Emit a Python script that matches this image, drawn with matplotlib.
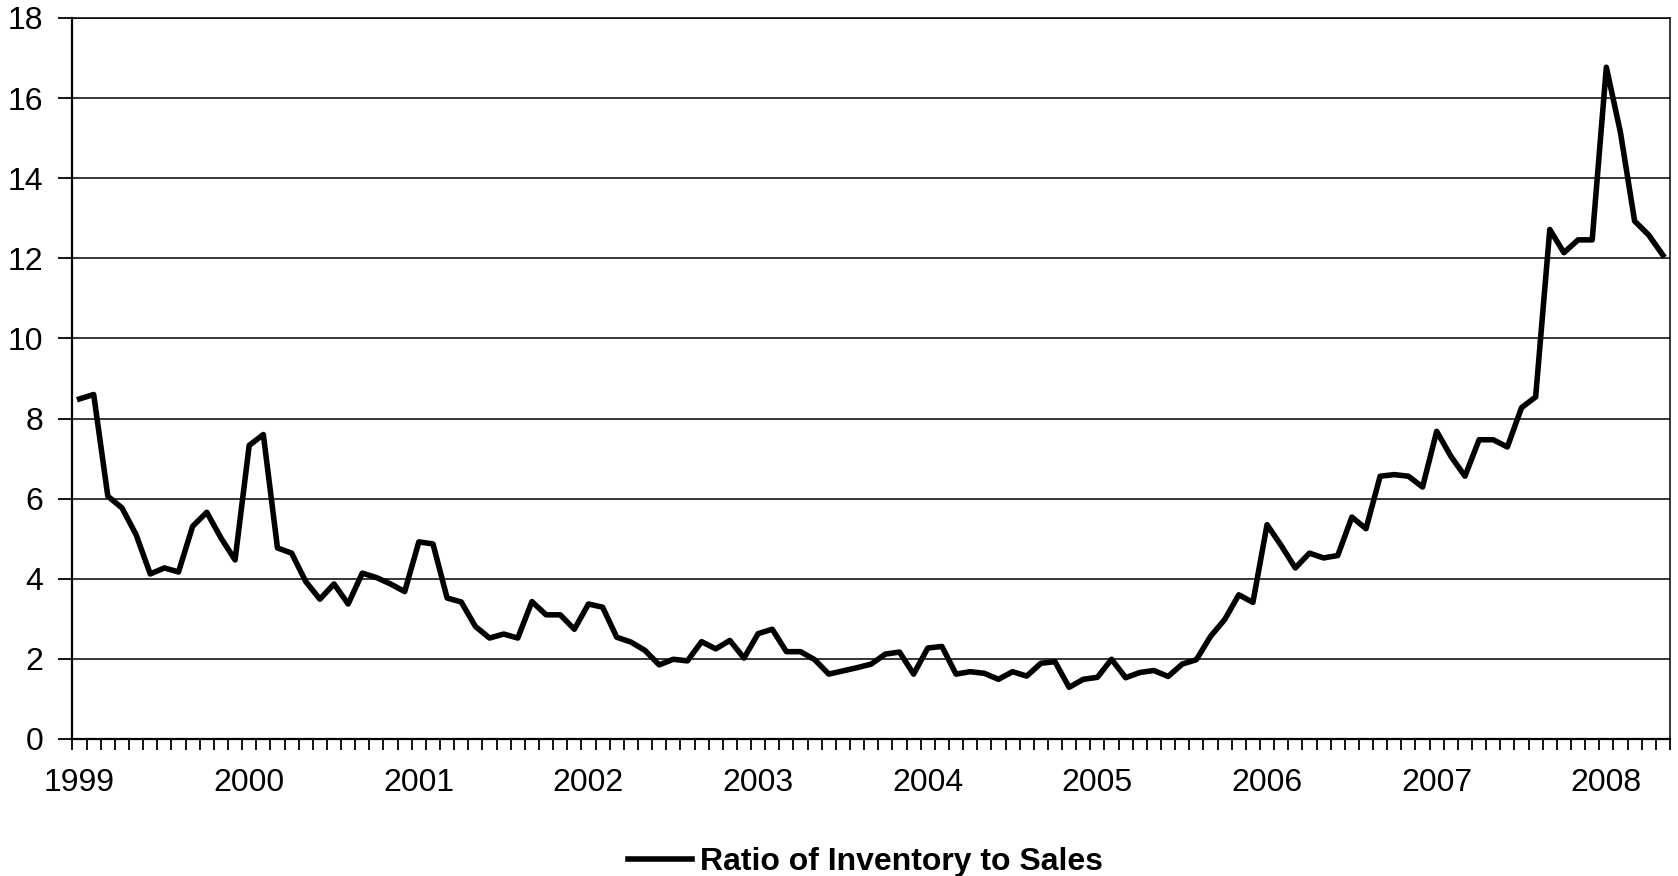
"""Ratio of inventory to sales, monthly, Jan 1999 - May 2008."""

import matplotlib

matplotlib.use("Agg")
import matplotlib.pyplot as plt
import numpy as np

# monthly values, one list per year
ratio_1999 = [8.49, 8.60, 6.06, 5.77, 5.10, 4.12, 4.27, 4.17, 5.31, 5.66, 5.02, 4.47]
ratio_2000 = [7.33, 7.60, 4.77, 4.64, 3.93, 3.49, 3.87, 3.37, 4.14, 4.03, 3.87, 3.68]
ratio_2001 = [4.92, 4.87, 3.52, 3.42, 2.81, 2.52, 2.62, 2.52, 3.43, 3.10, 3.10, 2.74]
ratio_2002 = [3.37, 3.29, 2.54, 2.42, 2.21, 1.85, 1.99, 1.95, 2.43, 2.25, 2.46, 2.02]
ratio_2003 = [2.63, 2.74, 2.18, 2.18, 1.98, 1.62, 1.70, 1.78, 1.87, 2.12, 2.17, 1.62]
ratio_2004 = [2.27, 2.31, 1.62, 1.68, 1.64, 1.49, 1.68, 1.57, 1.89, 1.93, 1.29, 1.49]
ratio_2005 = [1.54, 1.99, 1.53, 1.66, 1.71, 1.56, 1.87, 1.98, 2.56, 2.98, 3.60, 3.41]
ratio_2006 = [5.35, 4.83, 4.27, 4.64, 4.52, 4.58, 5.54, 5.25, 6.56, 6.60, 6.56, 6.29]
ratio_2007 = [7.68, 7.06, 6.56, 7.47, 7.47, 7.29, 8.27, 8.54, 12.72, 12.14, 12.46, 12.46]
ratio_2008 = [16.77, 15.14, 12.93, 12.58, 12.08]

years = ["1999", "2000", "2001", "2002", "2003", "2004", "2005", "2006", "2007", "2008"]
y_ticks = [0, 2, 4, 6, 8, 10, 12, 14, 16, 18]
series_label = "Ratio of Inventory to Sales"

ratio = (ratio_1999 + ratio_2000 + ratio_2001 + ratio_2002 + ratio_2003
         + ratio_2004 + ratio_2005 + ratio_2006 + ratio_2007 + ratio_2008)

plt.rcParams["font.family"] = ["Liberation Sans", "DejaVu Sans"]

fig = plt.figure(figsize=(16.78, 8.76), dpi=100)
ax = fig.add_axes([0.0432, 0.1564, 0.9520, 0.8231])

x = np.arange(len(ratio))
line, = ax.plot(x, ratio, color="black", linewidth=4.0, solid_joinstyle="round",
                label=series_label, zorder=3)

ax.set_xlim(-0.5, len(ratio) - 0.5)
ax.set_ylim(0, 18)

ax.set_yticks(y_ticks)
ax.set_yticklabels([str(v) for v in y_ticks])
ax.yaxis.grid(True, color="black", linewidth=1.1)
ax.set_axisbelow(True)

# year labels on each January, month boundary tick marks
ax.set_xticks(np.arange(0, len(ratio), 12))
ax.set_xticklabels(years)
ax.set_xticks(np.arange(-0.5, len(ratio), 1), minor=True)
ax.tick_params(axis="x", which="major", length=0, pad=21, labelsize=23)
ax.tick_params(axis="x", which="minor", length=8, width=1.3, direction="out")
ax.tick_params(axis="y", length=10, width=1.3, pad=11, labelsize=23)

for side in ["left", "bottom"]:
    ax.spines[side].set_linewidth(1.6)
for side in ["top", "right"]:
    ax.spines[side].set_linewidth(1.1)

fig.legend(handles=[line], loc="center", bbox_to_anchor=(0.516, 0.016),
           frameon=False, handlelength=2.0, handletextpad=0.25,
           prop={"size": 23, "weight": "bold"})

fig.savefig("out.png", dpi=100)
